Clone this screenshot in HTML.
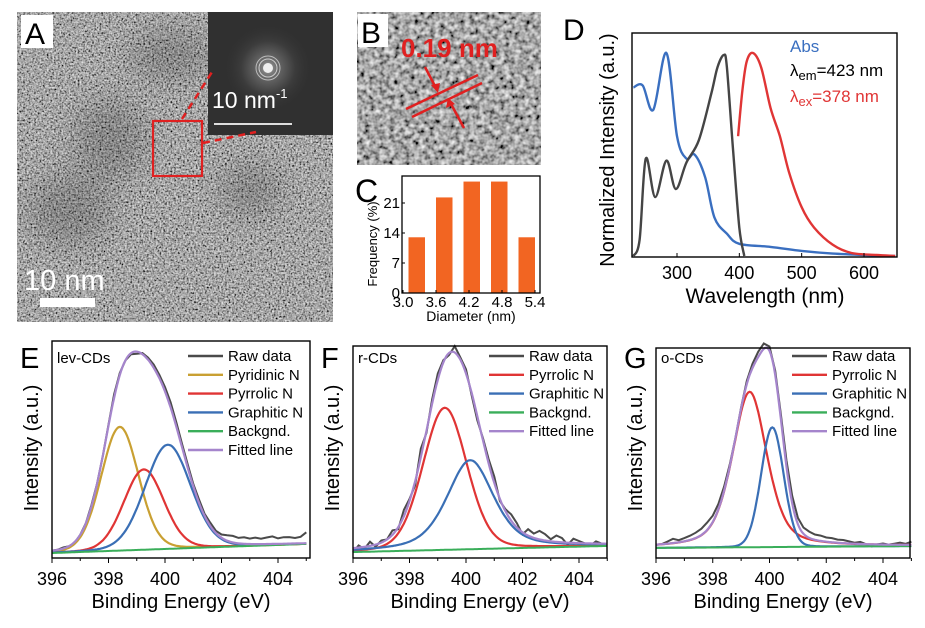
<!DOCTYPE html>
<html><head><meta charset="utf-8"><style>
html,body{margin:0;padding:0;background:#fff;}
svg{display:block;font-family:"Liberation Sans",Arial,sans-serif;}
</style></head><body>
<svg id="fig" width="925" height="628" viewBox="0 0 925 628" xmlns="http://www.w3.org/2000/svg">
<defs>
<filter id="tem" x="0" y="0" width="1" height="1">
<feTurbulence type="fractalNoise" baseFrequency="0.55" numOctaves="2" seed="5"/>
<feColorMatrix type="saturate" values="0"/>
<feComponentTransfer><feFuncR type="linear" slope="1.7" intercept="-0.47"/><feFuncG type="linear" slope="1.7" intercept="-0.47"/><feFuncB type="linear" slope="1.7" intercept="-0.47"/><feFuncA type="linear" slope="0" intercept="1"/></feComponentTransfer>
</filter>
<filter id="temb" x="0" y="0" width="1" height="1">
<feTurbulence type="fractalNoise" baseFrequency="0.2" numOctaves="2" seed="9"/>
<feColorMatrix type="saturate" values="0"/>
<feComponentTransfer><feFuncR type="linear" slope="1.7" intercept="-0.46"/><feFuncG type="linear" slope="1.7" intercept="-0.46"/><feFuncB type="linear" slope="1.7" intercept="-0.46"/><feFuncA type="linear" slope="0" intercept="1"/></feComponentTransfer>
</filter>
<filter id="blur8"><feGaussianBlur stdDeviation="14"/></filter>
<radialGradient id="fftglow" cx="0.5" cy="0.5" r="0.5">
<stop offset="0" stop-color="#ddd"/><stop offset="0.25" stop-color="#888"/><stop offset="0.6" stop-color="#444"/><stop offset="1" stop-color="#303030" stop-opacity="0"/>
</radialGradient>
<clipPath id="clipA"><rect x="17" y="12" width="316" height="310"/></clipPath>
</defs>

<g>
<rect x="17" y="12" width="316" height="310" filter="url(#tem)"/>
<g clip-path="url(#clipA)" filter="url(#blur8)" opacity="0.18">
<ellipse cx="110" cy="140" rx="35" ry="40" fill="#000"/>
<ellipse cx="70" cy="210" rx="40" ry="35" fill="#000"/>
<ellipse cx="170" cy="55" rx="40" ry="25" fill="#000"/>
<ellipse cx="250" cy="190" rx="30" ry="25" fill="#000"/>
</g>
<rect x="208" y="12" width="125" height="123" fill="#303030"/>
<circle cx="268" cy="68" r="45" fill="url(#fftglow)" opacity="0.6"/>
<circle cx="268" cy="68" r="12" fill="none" stroke="#bbb" stroke-width="1"/>
<circle cx="268" cy="68" r="9" fill="none" stroke="#ccc" stroke-width="1"/>
<circle cx="268" cy="68" r="5" fill="#eee"/>
<text x="212" y="108" font-size="23" fill="#fff">10 nm<tspan font-size="13" dy="-10">-1</tspan></text>
<line x1="214" y1="124" x2="292" y2="124" stroke="#ddd" stroke-width="2"/>
<rect x="153" y="121" width="49" height="55" fill="none" stroke="#e02020" stroke-width="2.2"/>
<line x1="182" y1="119" x2="212" y2="72" stroke="#e02020" stroke-width="2.5" stroke-dasharray="7,5"/>
<line x1="203" y1="143" x2="256" y2="132" stroke="#e02020" stroke-width="2.5" stroke-dasharray="7,5"/>
<rect x="21" y="15" width="32" height="33" fill="#fff"/>
<text x="25" y="44" font-size="30" fill="#000">A</text>
<text x="24" y="290" font-size="29" fill="#fff">10 nm</text>
<rect x="40" y="298" width="55" height="9" fill="#fff"/>
</g>

<g>
<rect x="357" y="12" width="184" height="153" filter="url(#temb)"/>
<rect x="358" y="14" width="30" height="33" fill="#fff"/>
<text x="361" y="43" font-size="30" fill="#000">B</text>
<text x="401" y="57" font-size="26" font-weight="bold" fill="#e02020">0.19 nm</text>
<line x1="406" y1="109" x2="478" y2="75" stroke="#e02020" stroke-width="2.5"/>
<line x1="412" y1="117" x2="482" y2="83" stroke="#e02020" stroke-width="2.5"/>
<line x1="425" y1="67" x2="436" y2="88" stroke="#e02020" stroke-width="2.5"/>
<polygon points="438,93 431,85 440,83" fill="#e02020"/>
<line x1="464" y1="128" x2="451" y2="104" stroke="#e02020" stroke-width="2.5"/>
<polygon points="448,98 446,108 455,104" fill="#e02020"/>
</g>

<g id="panelC"></g>
<g id="panelD"></g>
<g id="panelE"></g>
<g id="panelF"></g>
<g id="panelG"></g>
</svg>
<script>
// ---- Panel C data ----
const cDiameters = [3.25, 3.75, 4.25, 4.75, 5.25];
const cFreq = [13, 22.3, 26, 26, 13];
const cYTicks = [0, 7, 14, 21];
const cXTicks = [3.0, 3.6, 4.2, 4.8, 5.4];

// ---- Panel D data ----
const absWl = [230,245,262,283,300,315,328,345,360,380,400,450,500,550,600,650];
const absVal = [0.83,0.84,0.72,1.0,0.59,0.48,0.50,0.39,0.19,0.11,0.06,0.045,0.025,0.012,0.005,0.0];
const exWl = [230,240,250,265,283,298,315,335,355,365,375,380,390,400,408];
const exVal = [0,0.08,0.48,0.29,0.47,0.33,0.46,0.57,0.80,0.93,0.99,0.93,0.52,0.14,0];
const emWl = [398,405,412,422,435,450,465,480,500,520,550,580,620,650];
const emVal = [0.59,0.82,0.96,1.0,0.93,0.73,0.59,0.41,0.24,0.14,0.055,0.015,0.005,0.0];
const dXTicks = [300,400,500,600];

// ---- XPS data ----
const eCenters = [398.4, 399.25, 400.1];
const eHeights = [57, 37, 48];
const eFwhm = [1.56, 1.67, 1.9];
const eLor = [0.1, 0.1, 0.1];
const eBg = [2.3, 6.5];
const eRawDev = [0,0,0.5,0,-0.5,0,0,0.5,0,0,0.5,1.5,1,0,-0.5,-1,0.5,1,1.5,1.5,2,2.5,2,1.5,1.5,1,1.5,1,1.5,1,1.5,2.5,3,2.5,3,2.5,3,2.5,3,3.5,2.5,3,3,2.5,3,5];

const fCenters = [399.25, 400.15];
const fHeights = [67, 42];
const fFwhm = [1.83, 1.95];
const fLor = [0.15, 0.5];
const fBg = [2.8, 5.7];
const fRawDev = [-2,1,-1,2,-1,1,0,2,-1,3,1,-2,4,-1,2,3,1,-1,3,1,2,-1,-2,1,2,3,-1,1,3,2,-1,3,2,4,3,1,3,2,-1,2,1,0,-1,1,0,-1];

const gCenters = [399.3, 400.1];
const gHeights = [74, 57];
const gFwhm = [1.44, 0.94];
const gLor = [0.45, 0.05];
const gBg = [4.8, 5.7];
const gRawDev = [0,0,1,2,1,1.5,2,2.5,3,3.5,3,2.5,2,1,0,0.5,1.5,2,2.5,2.5,2,2,2.5,3,3.5,3,3,3,2.5,2.5,2,2,1.5,1.5,1,0.5,1,0,-1,0,0.5,0,0.5,1,0.5,1.5];
const xpsTicks = [396,398,400,402,404];

const NS = "http://www.w3.org/2000/svg";
function mk(parent, tag, attrs, text){
  const el = document.createElementNS(NS, tag);
  for (const k in attrs) el.setAttribute(k, attrs[k]);
  if (text !== undefined) el.textContent = text;
  parent.appendChild(el);
  return el;
}
function lin(d0,d1,r0,r1){ return v => r0 + (v-d0)/(d1-d0)*(r1-r0); }
function smooth(pts){
  let d = 'M'+pts[0][0].toFixed(1)+','+pts[0][1].toFixed(1);
  for (let i=0;i<pts.length-1;i++){
    const p0=pts[Math.max(0,i-1)], p1=pts[i], p2=pts[i+1], p3=pts[Math.min(pts.length-1,i+2)];
    const c1=[p1[0]+(p2[0]-p0[0])/6, p1[1]+(p2[1]-p0[1])/6];
    const c2=[p2[0]-(p3[0]-p1[0])/6, p2[1]-(p3[1]-p1[1])/6];
    d += ' C'+c1[0].toFixed(1)+','+c1[1].toFixed(1)+' '+c2[0].toFixed(1)+','+c2[1].toFixed(1)+' '+p2[0].toFixed(1)+','+p2[1].toFixed(1);
  }
  return d;
}

// ---------- Panel C ----------
(function(){
  const g = document.getElementById('panelC');
  const L=402, R=540, T=176, B=293;
  const x = lin(3.0, 5.4, 403, 535);
  const y = lin(0, 21, 293, 203);
  const bw = 0.3*(x(3.6)-x(3.0))/0.6;
  for (let i=0;i<cDiameters.length;i++){
    const r = mk(g,'rect',{x:x(cDiameters[i])-bw/2, y:y(cFreq[i]), width:bw, height:y(0)-y(cFreq[i]), fill:'#f26522'});
    
    
  }
  mk(g,'rect',{x:L,y:T,width:R-L,height:B-T,fill:'none',stroke:'#000','stroke-width':1.3});
  cYTicks.forEach(t=>{
    mk(g,'line',{x1:L,x2:L+3,y1:y(t),y2:y(t),stroke:'#000'});
    const tx = mk(g,'text',{x:L-2,y:y(t)+5,'font-size':15,'text-anchor':'end'}, String(t));
    
    
  });
  cXTicks.forEach(t=>{
    mk(g,'line',{x1:x(t),x2:x(t),y1:B,y2:B-3,stroke:'#000'});
    const tx = mk(g,'text',{x:x(t),y:307,'font-size':15,'text-anchor':'middle'}, t.toFixed(1));
    
    
  });
  const lb = mk(g,'text',{x:355,y:202,'font-size':32}, 'C');
   
  const yt = mk(g,'text',{x:0,y:0,'font-size':13,'text-anchor':'middle',transform:'translate(377,244) rotate(-90)'}, 'Frequency (%)');
   
  const xt = mk(g,'text',{x:471,y:321,'font-size':14,'text-anchor':'middle'}, 'Diameter (nm)');
   
})();

// ---------- Panel D ----------
(function(){
  const g = document.getElementById('panelD');
  const L=632, R=897, T=33, B=257;
  const x = lin(300, 600, 677, 864);
  const y = lin(0, 1, 256, 53);
  function series(wl, val, color, name){
    const pts = wl.map((w,i)=>[x(w), y(val[i])]);
    const p = mk(g,'path',{d:smooth(pts),fill:'none',stroke:color,'stroke-width':2.4,'stroke-linejoin':'round'});
    
    
  }
  series(absWl, absVal, '#3a6fc0', 'abs-line');
  series(exWl, exVal, '#454545', 'excitation-line');
  series(emWl, emVal, '#e03535', 'emission-line');
  mk(g,'rect',{x:L,y:T,width:R-L,height:B-T,fill:'none',stroke:'#000','stroke-width':1.4});
  dXTicks.forEach(t=>{
    mk(g,'line',{x1:x(t),x2:x(t),y1:B,y2:B-4,stroke:'#000'});
    const tx = mk(g,'text',{x:x(t),y:279,'font-size':18,'text-anchor':'middle'}, String(t));
     
  });
  const lb = mk(g,'text',{x:563,y:40,'font-size':30}, 'D');
   
  const yt = mk(g,'text',{x:0,y:0,'font-size':20,'text-anchor':'middle',transform:'translate(614,150) rotate(-90)'}, 'Normalized Intensity (a.u.)');
   
  const xt = mk(g,'text',{x:765,y:303,'font-size':21,'text-anchor':'middle'}, 'Wavelength (nm)');
   
  const l1 = mk(g,'text',{x:790,y:52,'font-size':17,fill:'#3a6fc0'}, 'Abs');
   
  const l2 = mk(g,'text',{x:790,y:76,'font-size':17,fill:'#000'}, 'λ');
  mk(l2,'tspan',{'font-size':13,dy:4},'em');
  mk(l2,'tspan',{dy:-4},'=423 nm');
   
  const l3 = mk(g,'text',{x:790,y:102,'font-size':17,fill:'#e03535'}, 'λ');
  mk(l3,'tspan',{'font-size':13,dy:4},'ex');
  mk(l3,'tspan',{dy:-4},'=378 nm');
   
})();

// ---------- XPS panels ----------
function peak(xv,c,h,w,m){
  const dx=xv-c;
  const ga=Math.exp(-4*Math.LN2*dx*dx/(w*w));
  const lo=1/(1+4*dx*dx/(w*w));
  return h*((1-m)*ga+m*lo);
}
function drawXPS(gid, geo, centers, heights, fwhm, lor, bg, rawDev, colors, names, label, letter){
  const g = document.getElementById(gid);
  const x = lin(396, 404, geo.L, geo.x404);
  const y = lin(0, 100, geo.B, geo.T);
  const bgf = xv => bg[0] + (bg[1]-bg[0])*(xv-396)/9;
  const fit = xv => bgf(xv) + centers.reduce((s,c,i)=>s+peak(xv,c,heights[i],fwhm[i],lor[i]),0);
  const xs=[]; for(let v=396; v<=405.001; v+=0.05) xs.push(v);
  function path(fn){ return xs.map((v,i)=>(i?'L':'M')+x(v).toFixed(1)+','+y(fn(v)).toFixed(1)).join(' '); }
  const rawX = rawDev.map((d,i)=>396+i*0.2);
  const rd = rawX.map((v,i)=>(i?'L':'M')+x(v).toFixed(1)+','+y(fit(v)+rawDev[i]).toFixed(1)).join(' ');
  const raw = mk(g,'path',{d:rd,fill:'none',stroke:'#4a4a4a','stroke-width':2});
   
  centers.forEach((c,i)=>{
    const p = mk(g,'path',{d:path(v=>bgf(v)+peak(v,c,heights[i],fwhm[i],lor[i])),fill:'none',stroke:colors[i],'stroke-width':2.2});
    
    
  });
  const b = mk(g,'path',{d:path(bgf),fill:'none',stroke:'#3aae5a','stroke-width':2});
   
  const f = mk(g,'path',{d:path(fit),fill:'none',stroke:'#a585cc','stroke-width':2.2});
   
  mk(g,'rect',{x:geo.L,y:geo.T,width:geo.R-geo.L,height:geo.B-geo.T,fill:'none',stroke:'#000','stroke-width':1.4});
  xpsTicks.forEach(t=>{
    mk(g,'line',{x1:x(t),x2:x(t),y1:geo.B,y2:geo.B+5,stroke:'#000'});
    mk(g,'line',{x1:x(t+1),x2:x(t+1),y1:geo.B,y2:geo.B+3,stroke:'#000'});
    const tx = mk(g,'text',{x:x(t),y:585,'font-size':18,'text-anchor':'middle'}, String(t));
     
  });
  const xt = mk(g,'text',{x:(geo.L+geo.R)/2,y:608,'font-size':20,'text-anchor':'middle'}, 'Binding Energy (eV)');
   
  const yt = mk(g,'text',{x:0,y:0,'font-size':20,'text-anchor':'middle',transform:'translate('+(geo.L-14)+',448) rotate(-90)'}, 'Intensity (a.u.)');
   
  const lb = mk(g,'text',{x:geo.L-32,y:368,'font-size':29}, letter);
   
  const sl = mk(g,'text',{x:geo.L+5,y:363,'font-size':15}, label);
   
  const legNames = ['Raw data'].concat(names).concat(['Backgnd.','Fitted line']);
  const legCols = ['#4a4a4a'].concat(colors).concat(['#3aae5a','#a585cc']);
  legNames.forEach((n,i)=>{
    const yy = 356 + i*18.8;
    const ln = mk(g,'line',{x1:geo.L+136,x2:geo.L+171,y1:yy,y2:yy,stroke:legCols[i],'stroke-width':2.4});
     
    const t = mk(g,'text',{x:geo.L+176,y:yy+5,'font-size':15}, n);
     
  });
}
drawXPS('panelE',{L:52,R:310,T:341,B:558,x404:278},eCenters,eHeights,eFwhm,eLor,eBg,eRawDev,
  ['#c9a032','#e03535','#3a6fb5'],['Pyridinic N','Pyrrolic N','Graphitic N'],'lev-CDs','E');
drawXPS('panelF',{L:353,R:607,T:346,B:558,x404:579},fCenters,fHeights,fFwhm,fLor,fBg,fRawDev,
  ['#e03535','#3a6fb5'],['Pyrrolic N','Graphitic N'],'r-CDs','F');
drawXPS('panelG',{L:656,R:910,T:348,B:558,x404:883},gCenters,gHeights,gFwhm,gLor,gBg,gRawDev,
  ['#e03535','#3a6fb5'],['Pyrrolic N','Graphitic N'],'o-CDs','G');
</script>
</body></html>
